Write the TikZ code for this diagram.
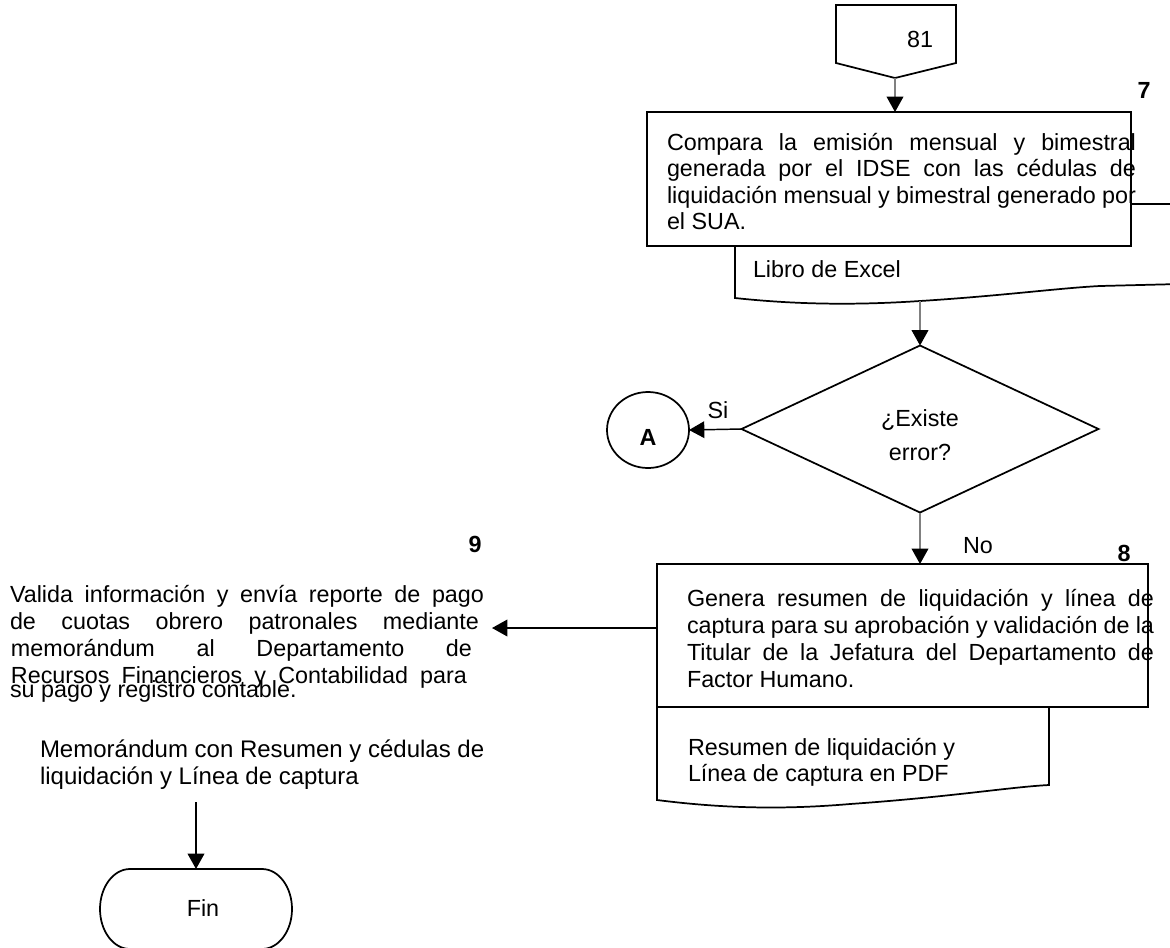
\documentclass[tikz,border=0pt]{standalone}
\usepackage{fontspec}
\setmainfont{Liberation Sans}
\usetikzlibrary{arrows.meta,shapes.geometric}
\begin{document}
\begin{tikzpicture}[x=0.75pt,y=-0.75pt,
  every node/.style={inner sep=0pt, outer sep=0pt, font=\fontsize{17.5}{20}\selectfont},
  txt/.style={anchor=base west},
  ctxt/.style={anchor=base},
  num/.style={anchor=base, font=\fontsize{17.5}{20}\selectfont\bfseries},
  procbox/.style={draw, line width=1.4pt, rectangle},
  outline/.style={draw, line width=1.3pt},
  flow/.style={line width=1.1pt, -{Triangle[length=11.5pt,width=12.5pt,color=black]}},
  soft/.style={flow, draw=black!50},
]
\useasboundingbox (0,0) rectangle (1170,947);

% off-page connector 81
\coordinate (tip81) at (895,78);
\draw[outline] (836,5) -- (956,5) -- (956,63) -- (tip81) -- (836,63) -- cycle;
\node[ctxt] (l81) at (920,47) {81};

% step 7 with its document
\draw[outline] (735,246) -- (735,298) .. controls (800,305) and (860,305) .. (920,301)
  .. controls (1000,296) and (1060,288) .. (1100,286) -- (1180,284);
\node[txt] (xlt) at (753,277) {Libro de Excel};
\node[procbox, fill=white, minimum width=484*0.75pt, minimum height=134*0.75pt] (b7) at (889,179) {};
\node[num] (n7) at (1144,98) {7};
\node[txt] (b7a) at (667,150) {\makebox[351.75pt][s]{Compara la emisión mensual y bimestral}};
\node[txt] (b7b) at (667,176.5) {\makebox[351.75pt][s]{generada por el IDSE con las cédulas de}};
\node[txt] (b7c) at (667,203) {\makebox[351.75pt][s]{liquidación mensual y bimestral generado por}};
\node[txt] (b7d) at (667,229.5) {el SUA.};
\coordinate (r7) at (1170,204);
\draw[line width=1.1pt] (b7.east |- r7) -- (r7);

% decision
\node[draw, diamond, line width=1.3pt, aspect=2.14, minimum width=357*0.75pt, minimum height=167*0.75pt] (dec) at (920,429) {};
\node[ctxt] (q1) at (920,426) {¿Existe};
\node[ctxt] (q2) at (920,460) {error?};
\node[draw, ellipse, line width=1.3pt, minimum width=82*0.75pt, minimum height=76*0.75pt] (conA) at (648,430) {};
\node[num] (la) at (648,445) {A};
\node[ctxt] (si) at (718,418) {Si};
\node[ctxt] (no) at (978,553) {No};

% step 8 with its document
\draw[outline] (657,707) -- (657,800) .. controls (720,808) and (780,810) .. (850,804)
  .. controls (950,797) and (1010,787) .. (1049,785) -- (1049,707);
\node[txt] (d8a) at (688,755.5) {Resumen de liquidación y};
\node[txt] (d8b) at (688,781.5) {Línea de captura en PDF};
\node[procbox, minimum width=491*0.75pt, minimum height=143*0.75pt] (b8) at (902.5,635.5) {};
\node[num] (n8) at (1124,561) {8};
\node[txt] (b8a) at (687,606.5) {\makebox[350.25pt][s]{Genera resumen de liquidación y línea de}};
\node[txt] (b8b) at (687,633.5) {\makebox[350.25pt][s]{captura para su aprobación y validación de la}};
\node[txt] (b8c) at (687,660.5) {\makebox[350.25pt][s]{Titular de la Jefatura del Departamento de}};
\node[txt] (b8d) at (687,687.5) {Factor Humano.};

% step 9
\node[num] (n9) at (475,552) {9};
\node[txt] (t9a) at (10,602.5) {\makebox[355.5pt][s]{Valida información y envía reporte de pago}};
\node[txt] (t9b) at (10,629.5) {\makebox[351.75pt][s]{de cuotas obrero patronales mediante}};
\node[txt] (t9c) at (11,656.5) {\makebox[345.75pt][s]{memorándum al Departamento de}};
\node[txt] (t9d) at (11,683) {\makebox[342pt][s]{Recursos Financieros y Contabilidad para}};
\node[txt] (t9e) at (10,697) {su pago y registro contable.};
\node[txt, font=\fontsize{18}{20}\selectfont] (m1) at (40,757) {Memorándum con Resumen y cédulas de};
\node[txt, font=\fontsize{18}{20}\selectfont] (m2) at (40,784) {liquidación y Línea de captura};

% terminator
\node[minimum width=192*0.75pt, minimum height=80*0.75pt] (fin) at (196,909) {};
\draw[outline] (130,869) -- (262,869) arc[start angle=-90, end angle=90, x radius=30, y radius=40]
  -- (130,949) arc[start angle=90, end angle=270, x radius=30, y radius=40] -- cycle;
\node[ctxt] (lfin) at (203,916) {Fin};

% connectors
\draw[soft] (tip81) -- (tip81 |- b7.north);
\coordinate (xl) at (920,301);
\draw[soft] (xl) -- (dec.north);
\draw[flow] (dec.west) -- (conA.east);
\draw[soft] (dec.south) -- (dec.south |- b8.north);
\coordinate (t9in) at (492,628);
\draw[flow] (b8.west |- t9in) -- (t9in);
\coordinate (memo) at (196,802);
\draw[flow] (memo) -- (fin.north);
\end{tikzpicture}
\end{document}
